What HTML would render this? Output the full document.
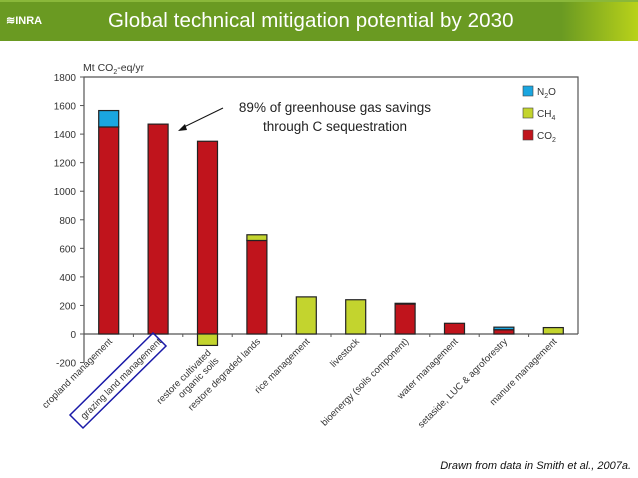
<!DOCTYPE html>
<html><head><meta charset="utf-8"><style>
body{margin:0;width:638px;height:478px;overflow:hidden;background:#fff;font-family:"Liberation Sans",sans-serif}
#hdr{position:absolute;left:0;top:0;width:638px;height:41px;background:linear-gradient(90deg,#6a9a22 0%,#6a9a22 88%,#b9d21a 100%);border-top:2px solid #8ab83a;box-sizing:border-box}
#title{position:absolute;left:108px;top:7px;font-size:20.5px;color:#fff;letter-spacing:0.1px}
#logo{position:absolute;left:6px;top:12px;font-size:11px;color:#fff;font-weight:bold}
</style></head><body>
<div id="hdr">
<div id="logo">≋INRA</div>
<div id="title">Global technical mitigation potential by 2030</div>
</div>
<svg id="chart" width="638" height="478" style="position:absolute;left:0;top:0"></svg>
<script>
const categories=["cropland management","grazing land management","restore cultivated|organic soils","restore degraded lands","rice management","livestock","bioenergy (soils component)","water management","setaside, LUC & agroforestry","manure management"];
const co2=[1450,1470,1350,655,0,0,210,75,30,0];
const ch4=[0,0,-80,40,260,240,0,0,0,45];
const n2o=[115,0,0,0,0,0,5,0,18,0];
const yTicks=[-200,0,200,400,600,800,1000,1200,1400,1600,1800];
const svg=document.getElementById('chart');
const NS='http://www.w3.org/2000/svg';
const X0=84,X1=578,Y0=334,K=257/1800;
const y=v=>Y0-v*K;
const bw=(X1-X0)/categories.length;
const cx=i=>X0+bw*(i+0.5);
function mk(t,a,p){const e=document.createElementNS(NS,t);for(const k in a)e.setAttribute(k,a[k]);(p||svg).appendChild(e);return e;}
let e;
e=mk('path',{d:`M${X0} ${y(-200)}V${y(1800)}H${X1}V${Y0}`,fill:'none',stroke:'#555','stroke-width':1.2});


e=mk('line',{x1:X0,x2:X1,y1:Y0,y2:Y0,stroke:'#555','stroke-width':1.2});


yTicks.forEach(v=>{
 mk('line',{x1:X0-4,x2:X0,y1:y(v),y2:y(v),stroke:'#555'});
 e=mk('text',{x:X0-8,y:y(v)+4,'text-anchor':'end','font-size':10,fill:'#333'});e.textContent=v;
 
 
});
e=mk('text',{x:83,y:71,'font-size':10.5,fill:'#333'});
e.innerHTML='Mt CO<tspan font-size="7" dy="3">2</tspan><tspan dy="-3">-eq/yr</tspan>';


const cols={co2:'#c0141c',ch4:'#c3d42e',n2o:'#1aa6e0'};
function seg(i,a,b,c,nm){if(a===b)return;const r=mk('rect',{x:cx(i)-10,y:y(Math.max(a,b)),width:20,height:Math.abs(b-a)*K,fill:c,stroke:'#222','stroke-width':1.2});
 
 }
categories.forEach((c,i)=>{
 mk('line',{x1:X0+bw*i,x2:X0+bw*i,y1:Y0,y2:Y0+3,stroke:'#555'});
 let base=0;
 seg(i,0,co2[i],cols.co2,'bar-co2');base=co2[i];
 if(ch4[i]<0)seg(i,0,ch4[i],cols.ch4,'bar-ch4');else{seg(i,base,base+ch4[i],cols.ch4,'bar-ch4');base+=ch4[i];}
 seg(i,base,base+n2o[i],cols.n2o,'bar-n2o');
 const lines=c.split('|');
 const ly=Math.max(Y0,y(Math.min(0,ch4[i])))+8;
 const g=mk('g',{transform:`translate(${cx(i)+4},${ly}) rotate(-45)`});
 
 
 lines.forEach((l,j)=>{const t=mk('text',{x:0,y:j*11,'text-anchor':'end','font-size':9.5,fill:'#333'},g);t.textContent=l;});
});
e=mk('polygon',{points:'153,333 166,346 83,428 70,415',fill:'none',stroke:'#1a1aa8','stroke-width':1.5});


const leg=[['N','2','O',cols.n2o],['CH','4','',cols.ch4],['CO','2','',cols.co2]];
leg.forEach((l,j)=>{const yy=91+j*22;
 e=mk('rect',{x:523,y:yy-5,width:10,height:10,fill:l[3],stroke:'#444','stroke-width':0.6});
 
 
 e=mk('text',{x:537,y:yy+4,'font-size':10,fill:'#333'});
 e.innerHTML=`${l[0]}<tspan font-size="7" dy="3">${l[1]}</tspan><tspan dy="-3">${l[2]}</tspan>`;
 
 
});
['89% of greenhouse gas savings','through C sequestration'].forEach((s,j)=>{
 e=mk('text',{x:335,y:112+j*19,'text-anchor':'middle','font-size':13.5,fill:'#222'});e.textContent=s;
 
 
});
e=mk('line',{x1:223,y1:108,x2:182,y2:128,stroke:'#111','stroke-width':1});


mk('polygon',{points:'178,131 185,124 187,130',fill:'#111'});
e=mk('text',{x:631,y:469,'text-anchor':'end','font-size':11,'font-style':'italic',fill:'#111'});
e.textContent='Drawn from data in Smith et al., 2007a.';


</script>
</body></html>
